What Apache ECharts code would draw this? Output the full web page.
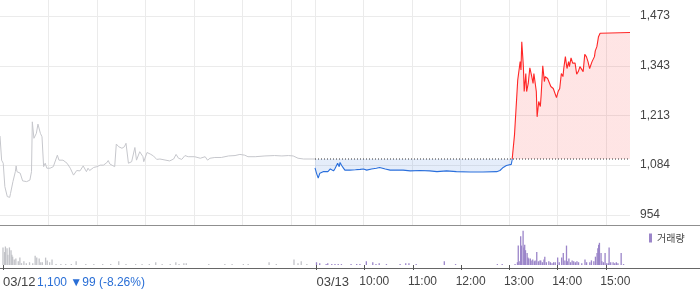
<!DOCTYPE html>
<html><head><meta charset="utf-8">
<script src="https://cdn.jsdelivr.net/npm/echarts@6/dist/echarts.min.js"></script>
<style>html,body{margin:0;padding:0;background:#fff}#c{width:700px;height:289px}</style>
</head><body><div id="c"></div>
<script>
// ---- DATA ----
const day1Times = ['09:00','09:02','09:04','09:06','09:09','09:12','09:13','09:16','09:19','09:20','09:21','09:25','09:28','09:33','09:37','09:39','09:40','09:42','09:45','09:47','09:50','09:52','09:54','09:56','09:58','10:02','10:06','10:08','10:11','10:13','10:18','10:23','10:27','10:31','10:35','10:39','10:43','10:45','10:47','10:49','10:51','10:56','11:00','11:04','11:08','11:12','11:14','11:16','11:22','11:24','11:27','11:31','11:34','11:36','11:39','11:41','11:43','11:45','11:47','11:49','11:53','11:57','11:58','12:02','12:06','12:10','12:14','12:18','12:20','12:30','12:35','12:38','12:41','12:45','12:49','12:53','13:01','13:08','13:14','13:17','13:20','13:26','13:34','13:43','13:51','13:57','14:03','14:07','14:16','14:28','14:40','14:49','14:57','15:03','15:09','15:16','15:29','15:30'];
const day1Prices = [1160,1097,1089,1028,1002,1000,1010,1041,1067,1082,1067,1063,1043,1041,1045,1067,1197,1154,1167,1191,1167,1158,1080,1089,1076,1076,1080,1076,1110,1097,1097,1089,1076,1058,1070,1069,1082,1087,1067,1076,1070,1078,1080,1084,1084,1090,1096,1087,1080,1139,1132,1128,1132,1141,1089,1087,1093,1089,1130,1097,1119,1106,1093,1117,1113,1108,1099,1100,1100,1095,1100,1112,1102,1099,1109,1106,1106,1102,1106,1097,1102,1104,1104,1108,1109,1112,1110,1106,1106,1108,1109,1108,1109,1108,1102,1100,1100,1100];

const day2Times = ['09:00','09:02','09:04','09:06','09:10','09:12','09:16','09:19','09:23','09:25','09:28','09:30','09:31','09:33','09:35','09:37','09:43','09:50','09:56','10:00','10:04','10:10','10:16','10:20','10:27','10:33','10:41','10:49','10:58','11:10','11:22','11:31','11:43','11:55','12:12','12:28','12:45','12:49','12:53','12:57','13:03','13:04','13:05','13:07','13:09','13:11','13:12','13:14','13:15','13:16','13:18','13:19','13:21','13:22','13:24','13:26','13:28','13:30','13:31','13:33','13:34','13:35','13:37','13:39','13:40','13:42','13:44','13:45','13:48','13:50','13:52','13:55','13:57','13:59','14:01','14:03','14:05','14:07','14:08','14:10','14:12','14:14','14:15','14:17','14:19','14:22','14:24','14:26','14:28','14:30','14:32','14:34','14:36','14:38','14:40','14:43','14:46','14:47','14:49','14:51','14:53','14:55','15:30'];
const day2Prices = [1077,1062,1050,1063,1067,1071,1067,1074,1069,1076,1089,1080,1091,1083,1077,1071,1071,1072,1073,1074,1071,1074,1076,1078,1074,1071,1071,1071,1069,1070,1069,1067,1069,1067,1066,1066,1067,1070,1078,1083,1086,1097,1102,1163,1167,1306,1306,1354,1332,1406,1341,1276,1323,1276,1297,1338,1319,1297,1323,1321,1276,1210,1250,1237,1267,1343,1302,1315,1310,1315,1289,1284,1280,1260,1276,1284,1323,1315,1336,1367,1336,1354,1341,1364,1350,1350,1321,1328,1341,1336,1328,1373,1367,1354,1336,1354,1367,1382,1393,1419,1428,1430,1430];

const vol1Times = ['09:00','09:02','09:03','09:05','09:06','09:08','09:10','09:11','09:12','09:14','09:16','09:19','09:21','09:23','09:26','09:29','09:33','09:37','09:40','09:42','09:45','09:47','09:49','09:53','09:55','09:58','10:01','10:06','10:12','10:18','10:25','10:31','10:43','10:53','11:04','11:14','11:24','11:33','11:45','11:53','12:02','12:10','12:18','12:28','12:35','12:39','12:45','12:48','13:16','13:36','13:45','13:59','14:05','14:31','14:40','15:02','15:07','15:11','15:18'];
const vol1Values = [190,140,200,180,110,190,160,110,90,60,70,40,80,20,40,20,30,20,100,80,70,30,30,80,50,30,60,10,10,10,10,40,10,10,10,10,40,10,10,10,10,30,10,10,30,10,20,20,10,10,10,10,10,30,10,60,20,40,10];

const vol2Times = ['09:00','09:04','09:12','09:14','09:19','09:23','09:27','09:31','09:43','09:50','09:54','10:02','10:10','10:14','10:18','10:27','10:44','10:51','10:55','11:04','11:39','11:53','12:45','12:51','13:07','13:10','13:11','13:13','13:14','13:15','13:17','13:18','13:19','13:20','13:22','13:23','13:24','13:26','13:27','13:29','13:31','13:32','13:34','13:36','13:38','13:39','13:41','13:43','13:44','13:46','13:49','13:51','13:53','13:55','13:57','14:00','14:02','14:05','14:07','14:09','14:11','14:12','14:14','14:16','14:18','14:20','14:22','14:24','14:26','14:30','14:34','14:36','14:40','14:42','14:45','14:47','14:49','14:50','14:51','14:52','14:54','14:55','14:57','14:59','15:01','15:03','15:04','15:06','15:09','15:11','15:13','15:15','15:19','15:22'];
const vol2Values = [30,20,10,20,10,10,10,10,10,10,10,40,30,10,20,10,10,20,20,10,40,10,10,10,10,30,210,40,310,210,370,190,220,160,130,80,70,70,50,60,40,50,140,40,50,50,30,60,90,30,40,30,20,30,30,80,30,80,130,50,210,40,70,30,50,40,30,40,30,20,60,30,30,50,40,90,130,180,220,240,130,40,30,130,20,20,190,30,30,20,30,20,130,10];

const prevClose = 1100;
const priceTicks = [954, 1084, 1213, 1343, 1473];
const gridDays = [0,0,0,0,0,0,1,1,1,1,1,1,1];
const gridTimes = ['10:00','11:00','12:00','13:00','14:00','15:00','09:00','10:00','11:00','12:00','13:00','14:00','15:00'];
const dateTickDays = [0,1];
const dateTickLabels = ['03/12','03/13'];
const hourTickTimes = ['10:00','11:00','12:00','13:00','14:00','15:00'];
const priceNote = '1,100 \u25BC99 (-8.26%)';

// ---- helpers ----
const SESSION = 390;
function toX(day, t){ const p=t.split(':').map(Number); return day*SESSION + p[0]*60 + p[1] - 540; }
const zip = (d, ts, vs) => ts.map((t,i)=>[toX(d,t), vs[i]]);
const gridX = gridTimes.map((t,i)=>toX(gridDays[i], t));
const dateX = dateTickDays.map(d=>toX(d,'09:00'));
const hourX = hourTickTimes.map(t=>toX(1,t));
const findLabel = (xs, labels, v) => { const i = xs.findIndex(x=>Math.abs(x-v)<0.5); return i<0 ? '' : labels[i]; };

const FONT = '"Liberation Sans", "Noto Sans CJK KR", sans-serif';
const chart = echarts.init(document.getElementById('c'), null, {renderer:'canvas'});
chart.setOption({
  animation: false,
  textStyle: { fontFamily: FONT },
  grid: [
    { left: 0, top: 0, width: 630, height: 225 },
    { left: 0, top: 228, width: 630, height: 40 }
  ],
  xAxis: [
    { type:'value', gridIndex:0, min:0, max:2*SESSION,
      axisLine:{show:false}, axisLabel:{show:false},
      axisTick:{show:false, customValues: gridX},
      splitLine:{show:true, lineStyle:{color:'#ebebeb', width:1}} },
    { type:'value', gridIndex:1, position:'bottom', min:0, max:2*SESSION,
      axisLine:{show:false},
      axisTick:{show:true, customValues: dateX, length:5, lineStyle:{color:'#555'}},
      axisLabel:{show:true, customValues: dateX, margin:11, color:'#444', fontSize:13, align:'left',
        formatter: v => findLabel(dateX, dateTickLabels, v)},
      splitLine:{show:false} },
    { type:'value', gridIndex:1, position:'bottom', offset:0, min:0, max:2*SESSION,
      axisLine:{show:false},
      axisTick:{show:true, customValues: hourX, length:5, lineStyle:{color:'#555'}},
      axisLabel:{show:true, customValues: hourX, margin:11, color:'#444', fontSize:12, align:'center',
        padding:[0,0,0,19],
        formatter: v => findLabel(hourX, hourTickTimes, v)},
      splitLine:{show:false} }
  ],
  yAxis: [
    { type:'value', gridIndex:0, position:'right', min:927.9, max:1514.7,
      axisLine:{show:false}, axisTick:{show:false, customValues: priceTicks},
      axisLabel:{show:true, customValues: priceTicks, margin:10, color:'#444', fontSize:12,
        formatter: v => Math.round(v).toLocaleString('en-US')},
      splitLine:{show:true, lineStyle:{color:'#ebebeb', width:1}} },
    { type:'value', gridIndex:1, min:0, max:400, show:false, splitLine:{show:false} }
  ],
  visualMap: [{ type:'piecewise', show:false, seriesIndex:1, dimension:1,
    pieces:[{gt:0, lt:prevClose, color:'#2a6fdc'},{gte:prevClose, lte:5000, color:'#ff2626'}] }],
  legend: { data:['거래량'], left:649, top:233, padding:0, icon:'rect', itemWidth:3, itemHeight:9,
    textStyle:{fontSize:10, color:'#444', fontFamily:'"Noto Sans CJK KR", sans-serif'}, selectedMode:false },
  series: [
    { name:'03/12', type:'line', xAxisIndex:0, yAxisIndex:0, data: zip(0, day1Times, day1Prices),
      symbol:'none', lineStyle:{color:'#c6c7cc', width:1}, itemStyle:{color:'#c6c7cc'} },
    { name:'03/13', type:'line', xAxisIndex:0, yAxisIndex:0, data: zip(1, day2Times, day2Prices), z:3,
      symbol:'none', lineStyle:{width:1.1}, areaStyle:{origin: prevClose, opacity:0.12} },
    { name:'전일종가', type:'line', xAxisIndex:0, yAxisIndex:0, z:5, silent:true,
      data: [[toX(1,'09:00'), prevClose], [toX(1,'15:30'), prevClose]],
      symbol:'none', lineStyle:{color:'#333', type:[1,2], width:1}, itemStyle:{color:'#333'} },
    { name:'거래량(03/12)', type:'bar', xAxisIndex:1, yAxisIndex:1, data: zip(0, vol1Times, vol1Values),
      barWidth:1.3, itemStyle:{color:'#c2c3c8'} },
    { name:'거래량', type:'bar', xAxisIndex:1, yAxisIndex:1, data: zip(1, vol2Times, vol2Values),
      barWidth:1.3, barGap:'-100%', itemStyle:{color:'#9b85c9'} }
  ],
  graphic: [
    { type:'line', silent:true, shape:{x1:0, y1:225.5, x2:700, y2:225.5}, style:{stroke:'#8f8f8f', lineWidth:1} },
    { type:'line', silent:true, shape:{x1:0, y1:268.5, x2:700, y2:268.5}, style:{stroke:'#666', lineWidth:1} },
    { type:'text', left:37, top:277, style:{text: priceNote, fill:'#2a6fd6', font:'12px '+FONT} }
  ]
});
</script></body></html>
